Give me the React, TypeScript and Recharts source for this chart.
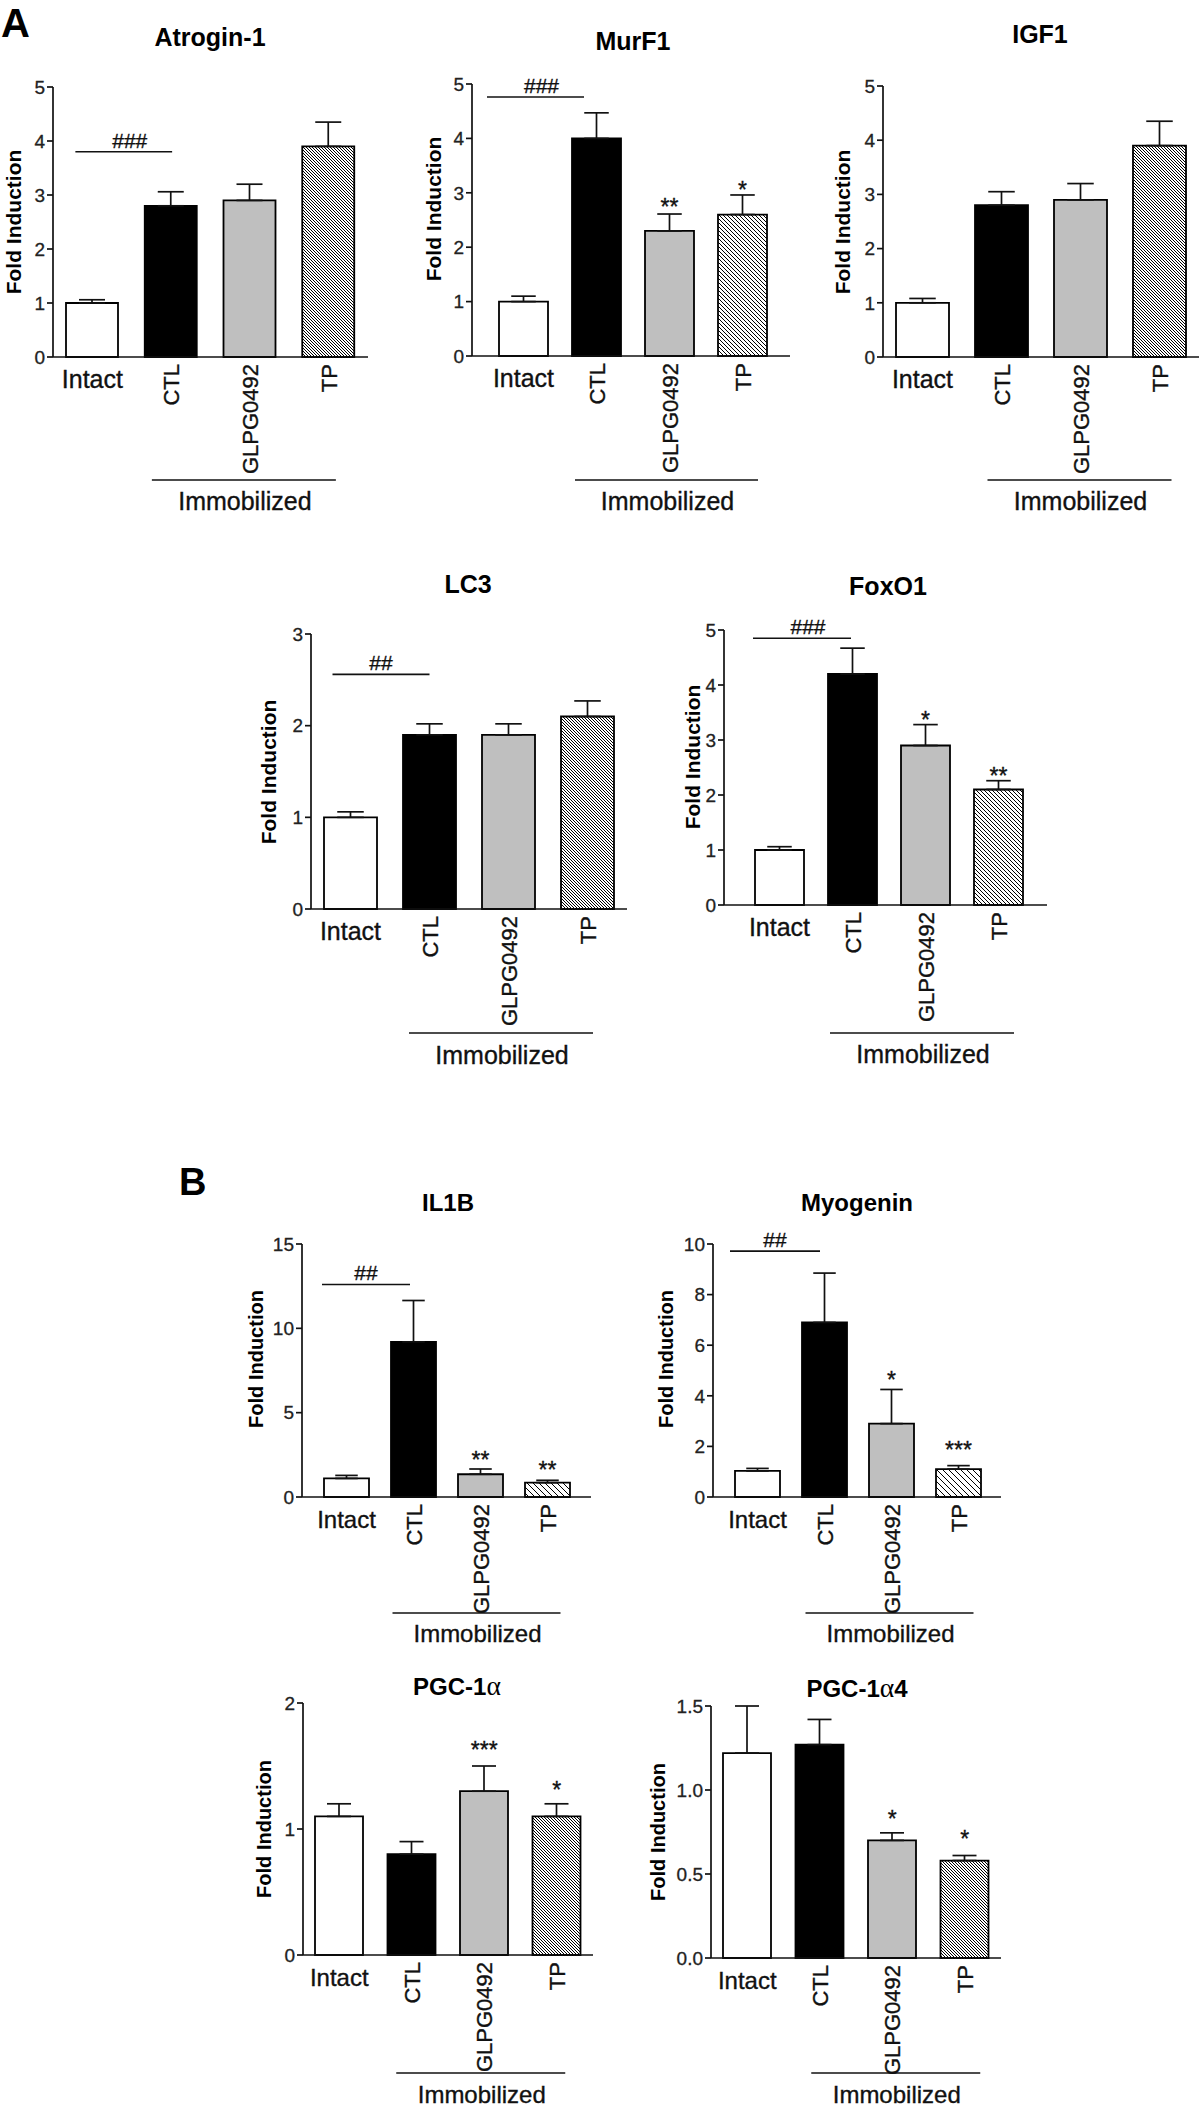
import React from 'react'
import { BarChart, Bar, XAxis, YAxis, Cell, ErrorBar, ReferenceLine, ReferenceDot } from 'recharts'

const FONT = '"Liberation Sans", Arial, Helvetica, sans-serif'
const SERIF = '"Liberation Serif", "DejaVu Serif", serif'

const categories = ['Intact', 'CTL', 'GLPG0492', 'TP']
const barFills = ['#ffffff', '#000000', '#bfbfbf', 'hatch']

// A
const atroginMean = [1.0, 2.8, 2.9, 3.9]
const atroginSem = [0.06, 0.26, 0.3, 0.45]
const murf1Mean = [1.0, 4.0, 2.3, 2.6]
const murf1Sem = [0.1, 0.47, 0.31, 0.36]
const murf1Stars = ['', '', '**', '*']
const murf1StarY = [0, 0, 2.83, 3.14]
const igf1Mean = [1.0, 2.8, 2.9, 3.9]
const igf1Sem = [0.08, 0.25, 0.3, 0.45]
const lc3Mean = [1.0, 1.9, 1.9, 2.1]
const lc3Sem = [0.06, 0.12, 0.12, 0.17]
const foxo1Mean = [1.0, 4.2, 2.9, 2.1]
const foxo1Sem = [0.06, 0.47, 0.38, 0.16]
const foxo1Stars = ['', '', '*', '**']
const foxo1StarY = [0, 0, 3.45, 2.44]

// B
const il1bMean = [1.1, 9.2, 1.35, 0.85]
const il1bSem = [0.18, 2.45, 0.31, 0.14]
const il1bStars = ['', '', '**', '**']
const il1bStarY = [0, 0, 2.5, 1.9]
const myogeninMean = [1.03, 6.9, 2.9, 1.1]
const myogeninSem = [0.1, 1.95, 1.35, 0.14]
const myogeninStars = ['', '', '*', '***']
const myogeninStarY = [0, 0, 4.82, 2.06]
const pgcMean = [1.1, 0.8, 1.3, 1.1]
const pgcSem = [0.1, 0.1, 0.2, 0.1]
const pgcStars = ['', '', '***', '*']
const pgcStarY = [0, 0, 1.67, 1.35]
const pgc4Mean = [1.22, 1.27, 0.7, 0.58]
const pgc4Sem = [0.28, 0.15, 0.045, 0.03]
const pgc4Stars = ['', '', '*', '*']
const pgc4StarY = [0, 0, 0.86, 0.74]

const ticks5 = [0, 1, 2, 3, 4, 5]
const ticks3 = [0, 1, 2, 3]
const ticks15 = [0, 5, 10, 15]
const ticks10 = [0, 2, 4, 6, 8, 10]
const ticks2 = [0, 1, 2]
const ticks15dec = [0, 0.5, 1, 1.5]

type Panel = {
  id: string
  title: string
  mean: number[]
  sem: number[]
  stars?: string[]
  starY?: number[]
  sig?: { text: string; y: number; dx1: number; dx2: number }
  ticks: number[]
  fmt?: (v: number) => string
  small?: boolean
  axisX: number
  topY: number
  zeroY: number
  rightX: number
  padL: number
  padR: number
  barSize: number
  hatch: number
  immoDx: number
  immoHalf: number
  immoLineDy: number
  immoTextDy: number
  titleX: number
  titleY: number
  labelX: number
  labelY: number
}

const panels: Panel[] = [
  {
    id: 'atrogin', title: 'Atrogin-1', mean: atroginMean, sem: atroginSem, ticks: ticks5,
    sig: { text: '###', y: 3.8, dx1: -17, dx2: 1 },
    axisX: 53, topY: 87, zeroY: 357, rightX: 368, padL: 0, padR: 0, barSize: 52, hatch: 3,
    immoDx: -6, immoHalf: 92, immoLineDy: 123, immoTextDy: 153,
    titleX: 210, titleY: 46, labelX: 13, labelY: 222,
  },
  {
    id: 'murf1', title: 'MurF1', mean: murf1Mean, sem: murf1Sem, stars: murf1Stars, starY: murf1StarY, ticks: ticks5,
    sig: { text: '###', y: 4.76, dx1: -36.5, dx2: -12.5 },
    axisX: 472, topY: 84, zeroY: 356, rightX: 790, padL: 15, padR: 11, barSize: 49, hatch: 4,
    immoDx: -3, immoHalf: 91.5, immoLineDy: 124, immoTextDy: 154,
    titleX: 633, titleY: 50, labelX: 433, labelY: 209,
  },
  {
    id: 'igf1', title: 'IGF1', mean: igf1Mean, sem: igf1Sem, ticks: ticks5,
    axisX: 883, topY: 86, zeroY: 357, rightX: 1199, padL: 0, padR: 0, barSize: 53, hatch: 3,
    immoDx: -1, immoHalf: 92, immoLineDy: 123, immoTextDy: 153,
    titleX: 1040, titleY: 43, labelX: 842, labelY: 222,
  },
  {
    id: 'lc3', title: 'LC3', mean: lc3Mean, sem: lc3Sem, ticks: ticks3,
    sig: { text: '##', y: 2.56, dx1: -18, dx2: 0 },
    axisX: 311, topY: 634, zeroY: 909, rightX: 627, padL: 0, padR: 0, barSize: 53, hatch: 3,
    immoDx: -7.5, immoHalf: 92, immoLineDy: 124, immoTextDy: 155,
    titleX: 468, titleY: 593, labelX: 268, labelY: 772,
  },
  {
    id: 'foxo1', title: 'FoxO1', mean: foxo1Mean, sem: foxo1Sem, stars: foxo1Stars, starY: foxo1StarY, ticks: ticks5,
    sig: { text: '###', y: 4.85, dx1: -26.5, dx2: -1.5 },
    axisX: 724, topY: 630, zeroY: 905, rightX: 1047, padL: 19, padR: 12, barSize: 49, hatch: 4,
    immoDx: -3.5, immoHalf: 92, immoLineDy: 128, immoTextDy: 158,
    titleX: 888, titleY: 595, labelX: 692, labelY: 757,
  },
  {
    id: 'il1b', title: 'IL1B', mean: il1bMean, sem: il1bSem, stars: il1bStars, starY: il1bStarY, ticks: ticks15,
    sig: { text: '##', y: 12.6, dx1: -24.5, dx2: -3.5 }, small: true,
    axisX: 302, topY: 1244, zeroY: 1497, rightX: 591, padL: 11, padR: 10, barSize: 45, hatch: 6,
    immoDx: -4, immoHalf: 84, immoLineDy: 116, immoTextDy: 145,
    titleX: 448, titleY: 1211, labelX: 255, labelY: 1359,
  },
  {
    id: 'myogenin', title: 'Myogenin', mean: myogeninMean, sem: myogeninSem, stars: myogeninStars, starY: myogeninStarY, ticks: ticks10,
    sig: { text: '##', y: 9.72, dx1: -27.5, dx2: -4.5 }, small: true,
    axisX: 713, topY: 1244, zeroY: 1497, rightX: 1001, padL: 11, padR: 9, barSize: 45, hatch: 6,
    immoDx: -2, immoHalf: 84, immoLineDy: 116, immoTextDy: 145,
    titleX: 857, titleY: 1211, labelX: 665, labelY: 1359,
  },
  {
    id: 'pgc', title: 'PGC-1α', mean: pgcMean, sem: pgcSem, stars: pgcStars, starY: pgcStarY, ticks: ticks2, small: true,
    axisX: 303, topY: 1703, zeroY: 1955, rightX: 593, padL: 0, padR: 0, barSize: 48, hatch: 3,
    immoDx: -3.5, immoHalf: 84.5, immoLineDy: 118, immoTextDy: 148,
    titleX: 457, titleY: 1695, labelX: 263, labelY: 1829,
  },
  {
    id: 'pgc4', title: 'PGC-1α4', mean: pgc4Mean, sem: pgc4Sem, stars: pgc4Stars, starY: pgc4StarY, ticks: ticks15dec,
    fmt: (v) => v.toFixed(1), small: true,
    axisX: 711, topY: 1706, zeroY: 1958, rightX: 1001, padL: 0, padR: 0, barSize: 48, hatch: 3,
    immoDx: 3.5, immoHalf: 84.5, immoLineDy: 115, immoTextDy: 145,
    titleX: 857, titleY: 1697, labelX: 657, labelY: 1832,
  },
]

const INK = '#111'
// the source figure is an upscaled raster, so its text reads a little heavier
const heavy = { stroke: INK, strokeWidth: 0.35 }

function makeTick(p: Panel) {
  const catFont = p.small ? 24 : 25
  return (props: any) => {
    const { x, y, payload } = props
    const v = payload.value
    if (v === 'Intact') {
      return (
        <text x={x} y={y + 31} textAnchor="middle" fontSize={catFont} fontFamily={FONT} fill={INK} {...heavy}>
          {v}
        </text>
      )
    }
    return (
      <g>
        <text
          transform={`translate(${x + 8},${y + 7}) rotate(-90)`}
          textAnchor="end"
          fontSize={22}
          fontFamily={FONT}
          fill={INK}
          {...heavy}
        >
          {v}
        </text>
        {v === 'GLPG0492' && (
          <g>
            <line
              x1={x + p.immoDx - p.immoHalf}
              x2={x + p.immoDx + p.immoHalf}
              y1={y + p.immoLineDy}
              y2={y + p.immoLineDy}
              stroke={INK}
              strokeWidth={1.6}
            />
            <text
              x={x + p.immoDx + 1}
              y={y + p.immoTextDy}
              textAnchor="middle"
              fontSize={catFont}
              fontFamily={FONT}
              fill={INK}
              {...heavy}
            >
              Immobilized
            </text>
          </g>
        )}
      </g>
    )
  }
}

function ChartPanel({ p }: { p: Panel }) {
  const data = categories.map((name, i) => ({ name, value: p.mean[i], err: [0, p.sem[i]] }))
  const YW = 60
  const MT = 40
  const XH = 175
  const MR = 4
  const left = p.axisX - YW
  const width = p.rightX - left + MR
  const height = p.zeroY - p.topY + MT + XH
  const hatchId = `hatch-${p.id}`
  const h = p.hatch
  const max = p.ticks[p.ticks.length - 1]
  const sig = p.sig

  return (
    <div style={{ position: 'absolute', left, top: p.topY - MT, width, height }}>
      <BarChart width={width} height={height} data={data} margin={{ top: MT, right: MR, bottom: 0, left: 0 }}>
        <defs>
          <pattern id={hatchId} patternUnits="userSpaceOnUse" width={h} height={h}>
            <rect width={h} height={h} fill="#fff" />
            <path
              d={`M0,0 L${h},${h} M${-1},${h - 1} L1,${h + 1} M${h - 1},-1 L${h + 1},1`}
              stroke="#000"
              strokeWidth={h > 5 ? 1.3 : 1.05}
              shapeRendering="crispEdges"
            />
          </pattern>
        </defs>
        <XAxis
          dataKey="name"
          type="category"
          interval={0}
          height={XH}
          tickLine={false}
          tickSize={0}
          tickMargin={0}
          padding={{ left: p.padL, right: p.padR }}
          axisLine={{ stroke: INK, strokeWidth: 1.7 }}
          tick={makeTick(p)}
        />
        <YAxis
          width={YW}
          domain={[0, max]}
          ticks={p.ticks}
          interval={0}
          tickSize={6}
          tickMargin={2}
          tickFormatter={p.fmt ? p.fmt : (v: number) => String(v)}
          axisLine={{ stroke: INK, strokeWidth: 1.7 }}
          tickLine={{ stroke: INK, strokeWidth: 1.7 }}
          tick={{ fontSize: 19, fill: '#222', fontFamily: FONT, stroke: '#222', strokeWidth: 0.3 }}
        />
        <Bar dataKey="value" barSize={p.barSize} stroke="#000" strokeWidth={1.8} isAnimationActive={false}>
          {data.map((d, i) => (
            <Cell key={d.name} fill={barFills[i] === 'hatch' ? `url(#${hatchId})` : barFills[i]} />
          ))}
          <ErrorBar dataKey="err" direction="y" width={p.barSize / 4} stroke={INK} strokeWidth={1.7} isAnimationActive={false} />
        </Bar>
        {sig && (
          <ReferenceLine
            segment={[
              { x: categories[0], y: sig.y },
              { x: categories[1], y: sig.y },
            ]}
            shape={(lp: any) => (
              <g>
                <line x1={lp.x1 + sig.dx1} x2={lp.x2 + sig.dx2} y1={lp.y1} y2={lp.y2} stroke={INK} strokeWidth={1.6} />
                <text
                  x={(lp.x1 + sig.dx1 + lp.x2 + sig.dx2) / 2 + (sig.text.length === 3 ? 6 : 0)}
                  y={lp.y1 - 4}
                  textAnchor="middle"
                  fontSize={21}
                  fontFamily={FONT}
                  fill={INK}
                  {...heavy}
                >
                  {sig.text}
                </text>
              </g>
            )}
          />
        )}
        {p.stars &&
          p.stars.map((s, i) =>
            s ? (
              <ReferenceDot
                key={`star-${i}`}
                x={categories[i]}
                y={p.starY ? p.starY[i] : 0}
                r={0}
                shape={(dp: any) => (
                  <text x={dp.cx} y={dp.cy + 13} textAnchor="middle" fontSize={23} fontFamily={FONT} fill={INK} {...heavy}>
                    {s}
                  </text>
                )}
              />
            ) : null
          )}
      </BarChart>
    </div>
  )
}

function Title({ p }: { p: Panel }) {
  const size = p.small ? 24 : 25
  const parts = p.title.split('α')
  return (
    <text x={p.titleX} y={p.titleY} textAnchor="middle" fontFamily={FONT} fontWeight="bold" fontSize={size} fill="#000">
      {parts[0]}
      {parts.length > 1 && (
        <tspan fontFamily={SERIF} fontWeight="normal" fontSize={size * 1.15}>
          α
        </tspan>
      )}
      {parts.length > 1 && parts[1]}
    </text>
  )
}

export default function App() {
  return (
    <div style={{ position: 'absolute', left: 0, top: 0, width: 1200, height: 2112, background: '#fff', overflow: 'hidden' }}>
      <svg width={1200} height={2112} style={{ position: 'absolute', left: 0, top: 0 }}>
        <text x={1} y={37} fontFamily={FONT} fontWeight="bold" fontSize={40} fill="#000">A</text>
        <text x={179} y={1195} fontFamily={FONT} fontWeight="bold" fontSize={38} fill="#000">B</text>
        {panels.map((p) => (
          <g key={`t-${p.id}`}>
            <Title p={p} />
            <text
              transform={`translate(${p.labelX + 7.5},${p.labelY}) rotate(-90)`}
              textAnchor="middle"
              fontFamily={FONT}
              fontWeight="bold"
              fontSize={p.small ? 20 : 21}
              fill="#000"
            >
              Fold Induction
            </text>
          </g>
        ))}
      </svg>
      {panels.map((p) => (
        <ChartPanel key={p.id} p={p} />
      ))}
    </div>
  )
}
